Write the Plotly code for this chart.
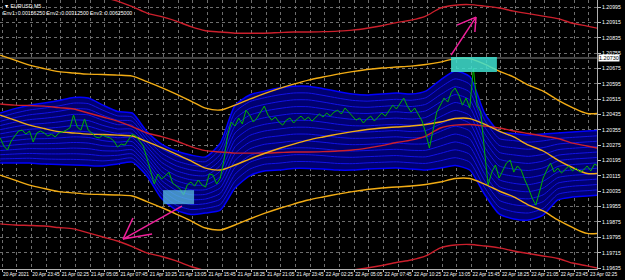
import plotly.graph_objects as go
import pandas as pd

# ---------------- data ----------------
symbol_text = "\u25bc EURUSD,M5"
env_text = "Env1: 0.00156250 Env2: 0.00312500 Env3: 0.00625000"
env2 = 0.003125   # yellow envelope deviation
env3 = 0.00625    # red envelope deviation

price_start = "2021-04-20 20:55"   # close sampled every 20 min
price_close = [
    1.20313, 1.20271, 1.20250, 1.20297, 1.20323, 1.20349, 1.20354, 1.20333, 1.20349, 1.20292,
    1.20339, 1.20349, 1.20339, 1.20323, 1.20333, 1.20318, 1.20339, 1.20344, 1.20354, 1.20365,
    1.20432, 1.20370, 1.20354, 1.20412, 1.20354, 1.20339, 1.20318, 1.20313, 1.20328, 1.20318,
    1.20313, 1.20297, 1.20266, 1.20281, 1.20276, 1.20307, 1.20333, 1.20323, 1.20297, 1.20271,
    1.20208, 1.20135, 1.20073, 1.20125, 1.20099, 1.20115, 1.20135, 1.20078, 1.20062, 1.20047,
    1.20016, 1.20068, 1.20083, 1.20062, 1.20094, 1.20068, 1.20057, 1.20125, 1.20120, 1.20073,
    1.20104, 1.20198, 1.20328, 1.20396, 1.20375, 1.20417, 1.20386, 1.20458, 1.20432, 1.20396,
    1.20417, 1.20448, 1.20479, 1.20432, 1.20406, 1.20422, 1.20396, 1.20380, 1.20406, 1.20417,
    1.20391, 1.20412, 1.20427, 1.20406, 1.20422, 1.20401, 1.20417, 1.20438, 1.20422, 1.20443,
    1.20427, 1.20448, 1.20458, 1.20438, 1.20469, 1.20448, 1.20432, 1.20406, 1.20417, 1.20391,
    1.20412, 1.20427, 1.20401, 1.20422, 1.20443, 1.20427, 1.20458, 1.20484, 1.20464, 1.20490,
    1.20521, 1.20479, 1.20448, 1.20469, 1.20432, 1.20401, 1.20339, 1.20260, 1.20354, 1.20448,
    1.20484, 1.20521, 1.20500, 1.20552, 1.20573, 1.20537, 1.20484, 1.20521, 1.20469, 1.20677,
    1.20484, 1.20448, 1.20250, 1.20068, 1.20135, 1.20172, 1.20104, 1.20146, 1.20182, 1.20198,
    1.20135, 1.20167, 1.20146, 1.20094, 1.20052, 1.20000, 1.19963, 1.20031, 1.20104, 1.20146,
    1.20182, 1.20135, 1.20156, 1.20130, 1.20146, 1.20167, 1.20141, 1.20156, 1.20135, 1.20146,
    1.20167, 1.20141, 1.20177, 1.20167,
]

ind_start = "2021-04-20 20:55"     # indicator lines sampled every 80 min
red_mid = [
    1.20490, 1.20484, 1.20482, 1.20479, 1.20471, 1.20464, 1.20443, 1.20422, 1.20401, 1.20372,
    1.20339, 1.20320, 1.20297, 1.20268, 1.20247, 1.20240, 1.20234, 1.20234, 1.20234, 1.20237,
    1.20240, 1.20240, 1.20242, 1.20245, 1.20250, 1.20260, 1.20273, 1.20289, 1.20302, 1.20323,
    1.20365, 1.20380, 1.20383, 1.20375, 1.20365, 1.20349, 1.20336, 1.20323, 1.20310, 1.20286,
    1.20271, 1.20255,
]
yellow_mid = [
    1.20432, 1.20406, 1.20380, 1.20362, 1.20346, 1.20339, 1.20333, 1.20331, 1.20328, 1.20323,
    1.20294, 1.20263, 1.20229, 1.20193, 1.20156, 1.20146, 1.20172, 1.20203, 1.20232, 1.20258,
    1.20281, 1.20302, 1.20318, 1.20333, 1.20346, 1.20357, 1.20365, 1.20370, 1.20375, 1.20383,
    1.20396, 1.20414, 1.20414, 1.20385, 1.20349, 1.20318, 1.20276, 1.20245, 1.20198, 1.20159,
    1.20128, 1.20130,
]
blue_upper = [
    1.20443, 1.20466, 1.20484, 1.20495, 1.20508, 1.20524, 1.20521, 1.20484, 1.20451, 1.20443,
    1.20346, 1.20281, 1.20245, 1.20224, 1.20214, 1.20286, 1.20482, 1.20537, 1.20557, 1.20573,
    1.20583, 1.20583, 1.20570, 1.20555, 1.20542, 1.20537, 1.20542, 1.20547, 1.20542, 1.20557,
    1.20615, 1.20662, 1.20633, 1.20443, 1.20346, 1.20336, 1.20328, 1.20333, 1.20339, 1.20344,
    1.20349, 1.20354,
]
blue_lower = [
    1.20182, 1.20182, 1.20182, 1.20177, 1.20174, 1.20172, 1.20169, 1.20167, 1.20177, 1.20187,
    1.20115, 1.19997, 1.19937, 1.19914, 1.19922, 1.19937, 1.20052, 1.20115, 1.20141, 1.20146,
    1.20154, 1.20154, 1.20151, 1.20146, 1.20146, 1.20151, 1.20154, 1.20156, 1.20151, 1.20146,
    1.20156, 1.20169, 1.20146, 1.20021, 1.19917, 1.19891, 1.19885, 1.19911, 1.19990, 1.20005,
    1.20010, 1.20016,
]

hline_price = 1.20730
hline_label = "1.20730"

rect_top = dict(t0="2021-04-22 13:53", t1="2021-04-22 18:03", p0=1.20657, p1=1.20735)
rect_bottom = dict(t0="2021-04-21 11:43", t1="2021-04-21 14:32", p0=1.19968, p1=1.20041)

# arrows: each a list of (time, price) segments
arrow_up = [
    [("2021-04-22 13:53", 1.20745), ("2021-04-22 16:09", 1.20943)],
    [("2021-04-22 16:09", 1.20943), ("2021-04-22 14:25", 1.20901)],
    [("2021-04-22 16:09", 1.20943), ("2021-04-22 16:03", 1.20865)],
]
arrow_down = [
    [("2021-04-21 13:26", 1.19958), ("2021-04-21 08:05", 1.19786)],
    [("2021-04-21 08:05", 1.19786), ("2021-04-21 08:59", 1.19896)],
    [("2021-04-21 08:05", 1.19786), ("2021-04-21 10:43", 1.19812)],
]

x_tick_start = "2021-04-20 21:05"
x_tick_labels = [
    "20 Apr 2021", "20 Apr 23:45", "21 Apr 02:25", "21 Apr 05:05", "21 Apr 07:45",
    "21 Apr 10:25", "21 Apr 13:05", "21 Apr 15:45", "21 Apr 18:25", "21 Apr 21:05",
    "21 Apr 23:45", "22 Apr 02:25", "22 Apr 05:05", "22 Apr 07:45", "22 Apr 10:25",
    "22 Apr 13:05", "22 Apr 15:45", "22 Apr 18:25", "22 Apr 21:05", "22 Apr 23:45",
    "23 Apr 02:25",
]
y_tick_labels = [
    "1.19635", "1.19715", "1.19795", "1.19875", "1.19955", "1.20035", "1.20115",
    "1.20195", "1.20275", "1.20355", "1.20435", "1.20515", "1.20595", "1.20675",
    "1.20755", "1.20835", "1.20915", "1.20995",
]

x_range = ["2021-04-20 20:54:05", "2021-04-23 03:08:40"]
y_range = [1.19630, 1.21032]

# ---------------- build ----------------
price_t = pd.date_range(price_start, periods=len(price_close), freq="20min")
ind_t = pd.date_range(ind_start, periods=len(red_mid), freq="80min")

BLUE_FILL = "#000070"
BLUE_LINE = "#1212e6"
BLUE_EDGE = "#0000ff"
RED = "#cc1f2c"
YELLOW = "#f2ac14"
GREEN = "#00b400"
MAGENTA = "#f0209a"

fig = go.Figure()

# blue band fill
fig.add_trace(go.Scatter(x=ind_t, y=blue_lower, mode="lines", line=dict(color=BLUE_EDGE, width=1.5, shape="spline", smoothing=0.6)))
fig.add_trace(go.Scatter(x=ind_t, y=blue_upper, mode="lines", fill="tonexty", fillcolor=BLUE_FILL,
                         line=dict(color=BLUE_EDGE, width=1.5, shape="spline", smoothing=0.6)))
n_lines = 12
for j in range(1, n_lines):
    f = j / n_lines
    yy = [lo + (hi - lo) * f for lo, hi in zip(blue_lower, blue_upper)]
    fig.add_trace(go.Scatter(x=ind_t, y=yy, mode="lines",
                             line=dict(color=BLUE_LINE, width=1, shape="spline", smoothing=0.6)))

# red envelope
for off in (-env3, 0.0, env3):
    fig.add_trace(go.Scatter(x=ind_t, y=[v + off for v in red_mid], mode="lines",
                             line=dict(color=RED, width=1.4, shape="spline", smoothing=0.8)))
# yellow envelope
for off in (-env2, 0.0, env2):
    fig.add_trace(go.Scatter(x=ind_t, y=[v + off for v in yellow_mid], mode="lines",
                             line=dict(color=YELLOW, width=1.4, shape="spline", smoothing=0.8)))

# price
fig.add_trace(go.Scatter(x=price_t, y=price_close, mode="lines", line=dict(color=GREEN, width=1)))

# arrows
for arr in (arrow_up, arrow_down):
    xs, ys = [], []
    for seg in arr:
        for t, p in seg:
            xs.append(t)
            ys.append(p)
        xs.append(None)
        ys.append(None)
    fig.add_trace(go.Scatter(x=xs, y=ys, mode="lines", line=dict(color=MAGENTA, width=1.5)))

# rectangles
fig.add_shape(type="rect", xref="x", yref="y", x0=rect_top["t0"], x1=rect_top["t1"],
              y0=rect_top["p0"], y1=rect_top["p1"], fillcolor="rgb(64,224,208)",
              opacity=0.85, line=dict(width=0), layer="above")
fig.add_shape(type="rect", xref="x", yref="y", x0=rect_bottom["t0"], x1=rect_bottom["t1"],
              y0=rect_bottom["p0"], y1=rect_bottom["p1"], fillcolor="rgb(90,190,225)",
              opacity=0.75, line=dict(width=0), layer="above")

# horizontal price line
fig.add_shape(type="line", xref="paper", yref="y", x0=0, x1=1, y0=hline_price, y1=hline_price,
              line=dict(color="#5a5a5a", width=1.5), layer="below")
fig.add_annotation(xref="paper", yref="y", x=1.0, y=hline_price, text=hline_label,
                   showarrow=False, xanchor="left", yanchor="middle", bgcolor="white",
                   font=dict(color="black", size=5.5, family="Liberation Sans"),
                   borderpad=0, xshift=1)

# header texts
fig.add_annotation(xref="paper", yref="paper", x=0.004, y=1.0, yshift=-1, text=symbol_text,
                   showarrow=False, xanchor="left", yanchor="top",
                   font=dict(color="white", size=5.2, family="Liberation Sans"))
fig.add_annotation(xref="paper", yref="paper", x=0.002, y=1.0, yshift=-8, text=env_text,
                   showarrow=False, xanchor="left", yanchor="top",
                   font=dict(color="white", size=5.2, family="Liberation Sans"))

tick_times = pd.date_range(x_tick_start, periods=2 * len(x_tick_labels) - 1, freq="80min")
tick_text = [x_tick_labels[i // 2] if i % 2 == 0 else "" for i in range(len(tick_times))]

fig.update_layout(
    width=625, height=280,
    margin=dict(l=0, r=28, t=0, b=11),
    paper_bgcolor="black", plot_bgcolor="black",
    showlegend=False, hovermode=False,
    xaxis=dict(range=x_range, tickmode="array", tickvals=tick_times, ticktext=tick_text,
               tickangle=0,
               showgrid=True, gridcolor="#6e6e6e", griddash="dot", gridwidth=1,
               ticks="outside", ticklen=2, tickcolor="#bbbbbb",
               ticklabelposition="outside right",
               tickfont=dict(color="white", size=4.8, family="Liberation Sans"),
               showline=True, linecolor="#b0b0b0", linewidth=1, mirror=True, zeroline=False),
    yaxis=dict(range=y_range, side="right", tickmode="array",
               tickvals=[float(s) for s in y_tick_labels], ticktext=y_tick_labels,
               showgrid=True, gridcolor="#6e6e6e", griddash="dot", gridwidth=1,
               ticks="outside", ticklen=3, tickcolor="#bbbbbb",
               tickfont=dict(color="white", size=5.2, family="Liberation Sans"),
               showline=True, linecolor="#b0b0b0", linewidth=1, mirror=True, zeroline=False),
)

fig.write_html("out.html")
